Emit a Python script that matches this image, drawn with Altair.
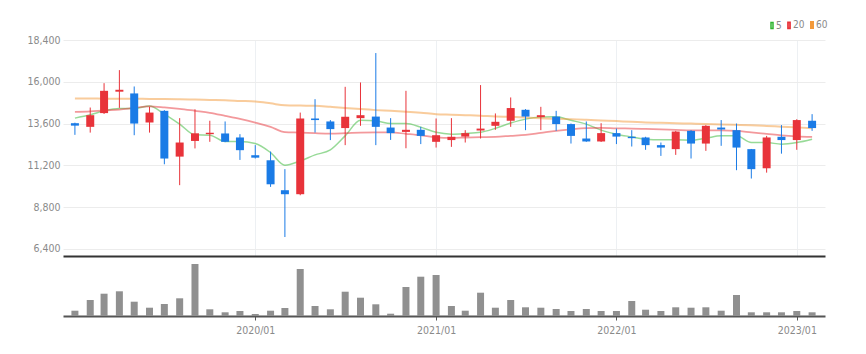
import altair as alt
import pandas as pd

months = pd.date_range("2019-01-01", periods=50, freq="MS").strftime("%Y/%m/%d").tolist()

open_ = [13620, 13410, 14200, 15430, 15330, 13660, 14330, 11700, 12600, 12990,
         13030, 12800, 11780, 11490, 9770, 9540, 13890, 13720, 13340, 13910,
         14000, 13370, 13120, 13240, 12550, 12650, 12850, 13200, 13470, 13760,
         14390, 13970, 14000, 13570, 12740, 12570, 13050, 12840, 12800, 12360,
         12130, 13180, 12450, 13370, 13220, 12130, 11030, 12840, 12650, 13760]
high = [13650, 14520, 15920, 16670, 15730, 14560, 14370, 13910, 14420, 13760,
        13720, 12990, 12360, 11990, 10980, 14230, 15000, 13800, 15710, 15960,
        17650, 13910, 15480, 13410, 13890, 13910, 13220, 15810, 14180, 15100,
        14430, 14560, 14330, 13600, 13720, 13620, 13310, 13220, 12840, 12510,
        13180, 13220, 13510, 13800, 13600, 12140, 12890, 13510, 13850, 14140]
low = [12950, 13080, 14150, 14500, 12930, 13080, 11260, 10060, 12170, 12550,
       12530, 11510, 11590, 9960, 7080, 9480, 13080, 12650, 12360, 13470,
       12360, 12660, 12180, 12420, 12220, 12260, 12510, 12740, 13240, 13410,
       13220, 13220, 13180, 12450, 12550, 12540, 12420, 12280, 12090, 11740,
       11800, 11590, 12030, 12320, 10920, 10440, 10780, 11870, 12090, 13180]
close = [13480, 14080, 15480, 15540, 13600, 14230, 11590, 12510, 13040, 13070,
         12550, 12070, 11640, 10110, 9540, 13890, 13800, 13280, 13990, 14080,
         13410, 13050, 13240, 12890, 12930, 12840, 13050, 13310, 13700, 14490,
         14000, 14080, 13570, 12890, 12570, 13050, 12850, 12760, 12360, 12220,
         13140, 12450, 13470, 13260, 12220, 10980, 12800, 12650, 13800, 13340]
volume = [530000, 1600000, 2230000, 2470000, 1430000, 830000, 1200000, 1770000, 5200000, 670000,
          370000, 500000, 200000, 530000, 800000, 4700000, 1000000, 670000, 2430000, 1830000,
          1170000, 230000, 2900000, 3930000, 4100000, 1000000, 530000, 2330000, 830000, 1600000,
          870000, 830000, 700000, 500000, 700000, 500000, 500000, 1500000, 630000, 500000,
          870000, 830000, 870000, 530000, 2100000, 370000, 370000, 370000, 500000, 370000]
ma5 = [13911, 14101, 14331, 14464, 14464, 14602, 14141, 13566, 12950, 12933,
       12565, 12565, 12450, 11931, 11206, 11454, 11799, 12087, 12893, 13785,
       13756, 13600, 13600, 13393, 13094, 12990, 13025, 13094, 13324, 13629,
       13854, 13969, 13986, 13785, 13566, 13220, 12990, 12835, 12702, 12663,
       12663, 12645, 12760, 12893, 12893, 12507, 12507, 12415, 12507, 12702]
ma20 = [14274, 14302, 14360, 14406, 14504, 14590, 14533, 14446, 14331, 14216,
        14044, 13871, 13658, 13410, 13105, 13082, 13048, 13025, 13048, 13082,
        13094, 13094, 13008, 12921, 12806, 12777, 12795, 12818, 12835, 12893,
        12950, 13065, 13180, 13267, 13336, 13353, 13324, 13313, 13295, 13267,
        13238, 13209, 13209, 13209, 13180, 13094, 13008, 12921, 12864, 12835]
ma60 = [15039, 15035, 15030, 15025, 15021, 15015, 15005, 14990, 14975, 14955,
        14936, 14900, 14866, 14760, 14648, 14630, 14619, 14560, 14500, 14430,
        14371, 14330, 14280, 14220, 14141, 14110, 14080, 14050, 14010, 13986,
        13950, 13910, 13870, 13854, 13820, 13780, 13740, 13700, 13658, 13640,
        13620, 13600, 13580, 13550, 13526, 13500, 13460, 13420, 13380, 13336]

ma_labels = ["5", "20", "60"]
ma_colors = ["#2fb52f", "#e8333a", "#f39a3a"]
y_ticks = [6400, 8800, 11200, 13600, 16000, 18400]
year_ticks = [alt.DateTime(year=y, month=1, date=1) for y in (2020, 2021, 2022, 2023)]

candles = pd.DataFrame({"date": months, "open": open_, "high": high,
                        "low": low, "close": close, "volume": volume})
ma_df = pd.concat([
    pd.DataFrame({"date": months, "value": vals, "ma": lab})
    for vals, lab in zip([ma5, ma20, ma60], ma_labels)
])

FONT = "Liberation Sans Narrow, DejaVu Sans Condensed, Roboto, sans-serif"
RED = "#e8333a"
BLUE = "#1a7be6"

xdomain = [alt.DateTime(year=2018, month=12, date=18), alt.DateTime(year=2023, month=2, date=17)]
xscale = alt.Scale(domain=xdomain)
yscale = alt.Scale(domain=[5990, 18400], nice=False, zero=False)

price_xaxis = alt.Axis(values=year_ticks, labels=False, ticks=False, domain=True,
                       domainColor="#333333", domainWidth=2, grid=True,
                       gridColor="#edf0f3", title=None)
price_yaxis = alt.Axis(values=y_ticks, format=",d", labelColor="#8a8a8a",
                       labelFontSize=10.5, labelFont=FONT, domain=False, ticks=False,
                       grid=True, gridColor="#ececec", labelPadding=3,
                       minExtent=30, maxExtent=30, title=None)

X = alt.X("date:T", scale=xscale, axis=price_xaxis)
candle_color = alt.condition("datum.close >= datum.open", alt.value(RED), alt.value(BLUE))

legend_symbol = "M0.25,-0.75H0.75V0.75H0.25Z"

lines = alt.Chart(ma_df).mark_line(interpolate="monotone", opacity=0.5).encode(
    x=X,
    y=alt.Y("value:Q", scale=yscale, axis=price_yaxis),
    color=alt.Color("ma:N", scale=alt.Scale(domain=ma_labels, range=ma_colors),
                    sort=ma_labels,
                    legend=alt.Legend(orient="none", legendX=702, legendY=-20,
                                      direction="horizontal", title=None,
                                      symbolType=legend_symbol, symbolSize=64,
                                      symbolStrokeWidth=2, symbolOpacity=1,
                                      labelFontSize=10, labelFont=FONT,
                                      labelColor="#8a8a8a", columnPadding=0,
                                      labelOffset=1, padding=0)),
    strokeWidth=alt.StrokeWidth("ma:N", scale=alt.Scale(domain=ma_labels, range=[1.5, 2, 3]),
                                legend=None),
)

wicks = alt.Chart(candles).mark_rule(strokeWidth=1).encode(
    x=X, y=alt.Y("low:Q", scale=yscale, axis=price_yaxis), y2="high:Q", color=candle_color
)
bodies = alt.Chart(candles).mark_bar(size=8).encode(
    x=X, y=alt.Y("open:Q", scale=yscale, axis=price_yaxis), y2="close:Q", color=candle_color
)

price = alt.layer(lines, wicks, bodies).properties(width=762, height=216)

vol = alt.Chart(candles).mark_bar(size=7, color="#909090").encode(
    x=alt.X("date:T", scale=xscale,
            axis=alt.Axis(values=year_ticks, format="%Y/%m", labelColor="#8a8a8a",
                          labelFontSize=10.5, labelFont=FONT, ticks=True, tickSize=4,
                          tickColor="#555555", domainColor="#555555", domainWidth=2,
                          grid=False, title=None, labelPadding=5)),
    y=alt.Y("volume:Q", scale=alt.Scale(domain=[0, 5700000], nice=False),
            axis=alt.Axis(labels=False, ticks=False, domain=False, grid=False,
                          title=None, minExtent=30, maxExtent=30)),
).properties(width=762, height=57)

chart = alt.vconcat(price, vol, spacing=3).properties(
    padding={"left": 26, "top": 20, "right": 10, "bottom": 5},
    background="white",
).configure_view(stroke=None)

chart.save("out.html", embed_options={"renderer": "svg", "actions": False})
